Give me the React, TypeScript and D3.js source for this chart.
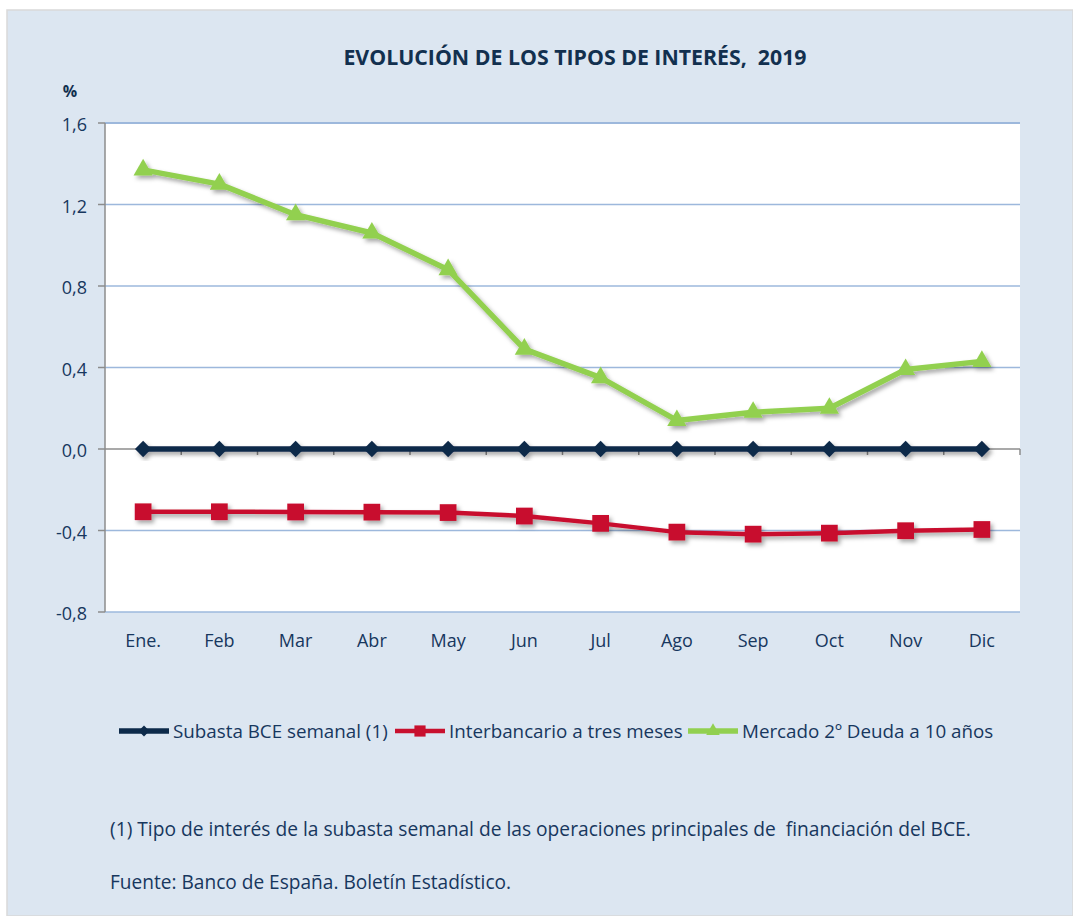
import React from "react";
import * as d3 from "d3";

const months = ["Ene.", "Feb", "Mar", "Abr", "May", "Jun", "Jul", "Ago", "Sep", "Oct", "Nov", "Dic"];
const subasta = [0, 0, 0, 0, 0, 0, 0, 0, 0, 0, 0, 0];
const interbancario = [-0.308, -0.308, -0.309, -0.31, -0.312, -0.329, -0.365, -0.408, -0.418, -0.413, -0.401, -0.395];
const deuda = [1.37, 1.3, 1.15, 1.06, 0.88, 0.49, 0.35, 0.14, 0.18, 0.2, 0.39, 0.43];
const yTicks = [-0.8, -0.4, 0, 0.4, 0.8, 1.2, 1.6];
const seriesNames = ["Subasta BCE semanal (1)", "Interbancario a tres meses", "Mercado 2º Deuda a 10 años"];

const W = 1073;
const H = 916;
const plot = { left: 105, right: 1020, top: 123, bottom: 612 };
const font = "'Open Sans', Lato, sans-serif";
const textColor = "#17375e";
const bg = "#dce6f1";
const grid = "#9db8dc";

const series = [
  { name: seriesNames[0], values: subasta, color: "#0d2a4a", symbol: d3.symbolDiamond2, size: 170, legendSize: 75, width: 5.5 },
  { name: seriesNames[1], values: interbancario, color: "#c8102e", symbol: d3.symbolSquare, size: 280, legendSize: 125, width: 4.5 },
  { name: seriesNames[2], values: deuda, color: "#92d050", symbol: d3.symbolTriangle, size: 160, legendSize: 80, width: 5.5 },
];
const legendX = [119, 395, 688];

export default function App() {
  const x = d3.scaleBand<string>().domain(months).range([plot.left, plot.right]);
  const y = d3.scaleLinear().domain([-0.8, 1.6]).range([plot.bottom, plot.top]);
  const cx = (m: string) => (x(m) as number) + x.bandwidth() / 2;
  const fmt = (v: number) => d3.format(".1f")(v).replace(".", ",").replace("−", "-");

  return (
    <svg width={W} height={H} style={{ position: "absolute", left: 0, top: 0 }} fontFamily={font}>
      <defs>
        <filter id="shadow" x="-20%" y="-20%" width="140%" height="140%">
          <feDropShadow dx="2.5" dy="3" stdDeviation="2" floodColor="#000" floodOpacity="0.35" />
        </filter>
      </defs>
      <rect x={0} y={0} width={W} height={H} fill="#fff" />
      <rect x={7} y={10} width={W - 7} height={H - 10} fill={bg} stroke="#d9d9d9" strokeWidth={1.5} />
      <text x={575} y={65} textAnchor="middle" fontWeight="bold" fontSize={21.3} fill="#12304f" style={{ whiteSpace: "pre" }}>
        EVOLUCIÓN DE LOS TIPOS DE INTERÉS,  2019
      </text>
      <text x={70} y={97} textAnchor="middle" fontWeight="bold" fontSize={16} fill="#12304f">%</text>

      <rect x={plot.left} y={plot.top} width={plot.right - plot.left} height={plot.bottom - plot.top} fill="#fff" />
      {yTicks.filter((t) => t !== 0).map((t) => (
        <line key={t} x1={plot.left} x2={plot.right} y1={y(t)} y2={y(t)} stroke={grid} strokeWidth={t === 1.6 ? 2 : 1.5} />
      ))}
      <line x1={plot.left} x2={plot.left} y1={plot.top} y2={plot.bottom} stroke="#8c8c8c" strokeWidth={1.5} />
      {yTicks.map((t) => (
        <g key={t}>
          <line x1={plot.left - 7} x2={plot.left} y1={y(t)} y2={y(t)} stroke="#8c8c8c" strokeWidth={1.5} />
          <text x={87} y={y(t)} dy="0.45em" textAnchor="end" fontSize={18} fill={textColor}>{fmt(t)}</text>
        </g>
      ))}
      <line x1={plot.left} x2={plot.right} y1={y(0)} y2={y(0)} stroke="#8c8c8c" strokeWidth={1.5} />
      {months.map((m) => (
        <line key={m} x1={(x(m) as number) + x.bandwidth()} x2={(x(m) as number) + x.bandwidth()} y1={y(0)} y2={y(0) + 6} stroke="#8c8c8c" strokeWidth={1.5} />
      ))}
      {months.map((m) => (
        <text key={m} x={cx(m)} y={647} textAnchor="middle" fontSize={18} fill={textColor}>{m}</text>
      ))}

      {series.map((s) => {
        const line = d3.line<number>().x((_, i) => cx(months[i])).y((v) => y(v));
        const sym = d3.symbol().type(s.symbol).size(s.size);
        return (
          <g key={s.name} filter="url(#shadow)">
            <path d={line(s.values) as string} fill="none" stroke={s.color} strokeWidth={s.width} strokeLinejoin="round" />
            {s.values.map((v, i) => (
              <path key={i} d={sym() as string} transform={`translate(${cx(months[i])},${y(v)})`} fill={s.color} />
            ))}
          </g>
        );
      })}

      {series.map((s, i) => {
        const sym = d3.symbol().type(s.symbol).size(s.legendSize);
        const lx = legendX[i];
        return (
          <g key={s.name}>
            <line x1={lx} x2={lx + 50} y1={731} y2={731} stroke={s.color} strokeWidth={s.width} />
            <path d={sym() as string} transform={`translate(${lx + 25},731)`} fill={s.color} />
            <text x={lx + 54} y={731} dy="0.36em" fontSize={18.8} fill={textColor}>{s.name}</text>
          </g>
        );
      })}

      <text x={110} y={836} fontSize={19.2} fill={textColor} style={{ whiteSpace: "pre" }}>
        (1) Tipo de interés de la subasta semanal de las operaciones principales de  financiación del BCE.
      </text>
      <text x={110} y={889} fontSize={19.1} fill={textColor}>Fuente: Banco de España. Boletín Estadístico.</text>
    </svg>
  );
}
